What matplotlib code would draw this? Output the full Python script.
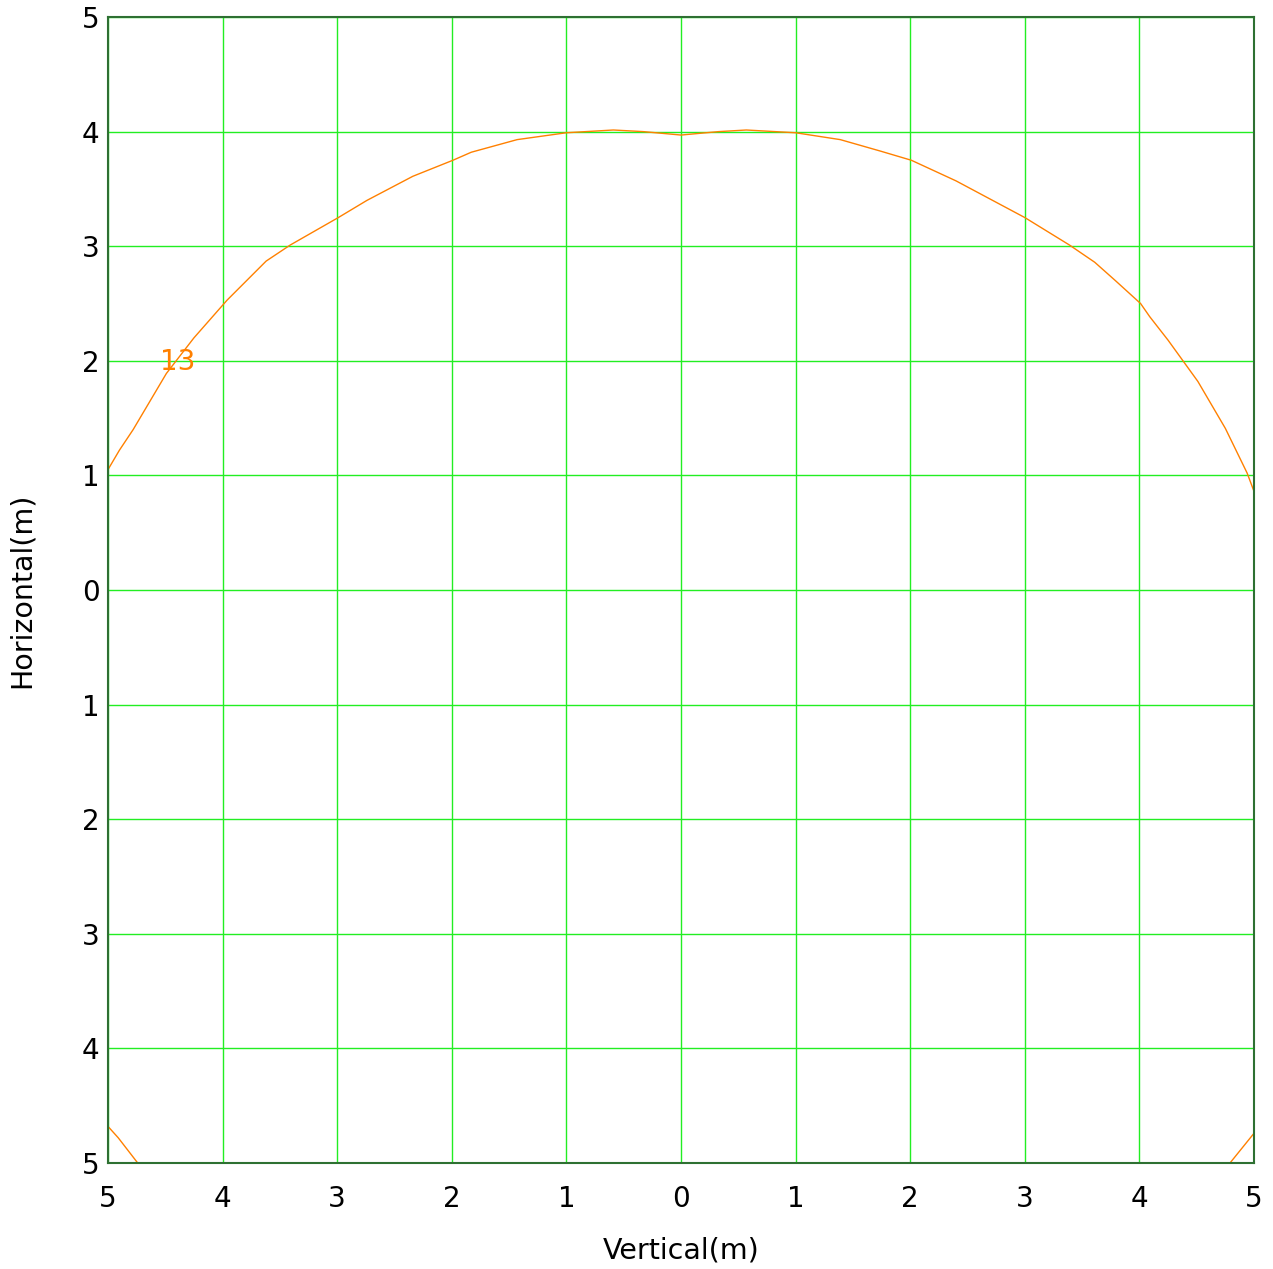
import numpy as np
import matplotlib.pyplot as plt
from matplotlib.ticker import FuncFormatter, MultipleLocator

# contour level 13, upper branch
upper_x = [-5.0, -4.9, -4.78, -4.49, -4.25, -3.96, -3.81, -3.62, -3.41, -2.99, -2.74,
           -2.34, -1.99, -1.83, -1.43, -1.0, -0.59, -0.33, 0.0, 0.33, 0.57, 1.0, 1.39,
           1.74, 2.01, 2.4, 3.0, 3.39, 3.61, 3.79, 4.01, 4.09, 4.25, 4.38, 4.51, 4.75,
           4.94, 5.0]
upper_y = [1.05, 1.22, 1.40, 1.89, 2.2, 2.53, 2.68, 2.87, 3.01, 3.25, 3.40,
           3.61, 3.75, 3.82, 3.93, 3.99, 4.014, 4.0, 3.97, 4.0, 4.014, 3.99, 3.93,
           3.83, 3.75, 3.57, 3.25, 3.01, 2.86, 2.7, 2.5, 2.385, 2.18, 2.0, 1.82, 1.41,
           1.02, 0.86]

# lower corner pieces
left_x = [-5.0, -4.91, -4.74]
left_y = [-4.68, -4.78, -5.0]
right_x = [4.79, 5.0]
right_y = [-5.0, -4.74]

level = 13
label_pos = (-4.39, 1.99)

orange = '#ff8000'

fig = plt.figure(figsize=(12.73, 12.69), dpi=100)
ax = fig.add_axes([0.0848, 0.0835, 0.9003, 0.9031])

ax.plot(upper_x, upper_y, color=orange, lw=1)
ax.plot(left_x, left_y, color=orange, lw=1)
ax.plot(right_x, right_y, color=orange, lw=1)
ax.text(label_pos[0], label_pos[1], str(level), color=orange, fontsize=20,
        ha='center', va='center')

ax.set_xlim(-5, 5)
ax.set_ylim(-5, 5)
ax.xaxis.set_major_locator(MultipleLocator(1))
ax.yaxis.set_major_locator(MultipleLocator(1))
fmt = FuncFormatter(lambda v, p: '%d' % abs(round(v)))
ax.xaxis.set_major_formatter(fmt)
ax.yaxis.set_major_formatter(fmt)
ax.tick_params(length=0, labelsize=20)
ax.tick_params(axis='x', pad=16)
ax.tick_params(axis='y', pad=6)
ax.grid(True, color='#22ee22', lw=1)
ax.set_axisbelow(True)
for s in ax.spines.values():
    s.set_color('#2e7032')
    s.set_linewidth(1.5)

ax.set_xlabel('Vertical(m)', fontsize=20.5, labelpad=17)
ax.set_ylabel('Horizontal(m)', fontsize=20.5, labelpad=33)

fig.savefig('out.png', dpi=100)
